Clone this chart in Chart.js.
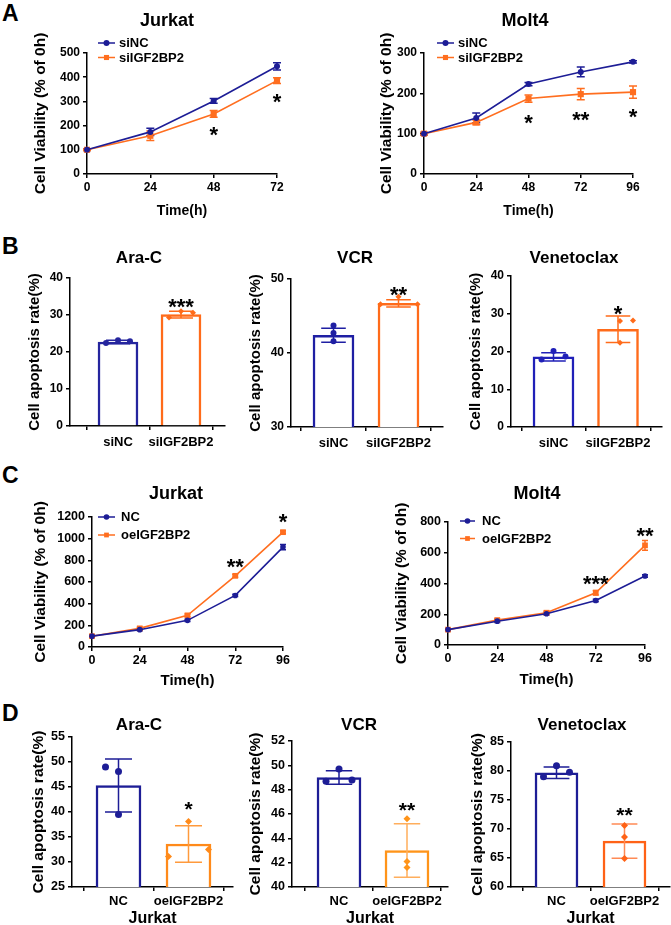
<!DOCTYPE html>
<html>
<head>
<meta charset="utf-8">
<script src="https://cdn.jsdelivr.net/npm/chart.js@4.4.0/dist/chart.umd.min.js"></script>
<style>
  html, body { margin: 0; padding: 0; background: #fff; width: 671px; height: 925px; overflow: hidden; position: relative; }
  canvas { position: absolute; }
  .tag { position: absolute; font: bold 23px "Liberation Sans", Arial, sans-serif; color: #000; line-height: 1; }
</style>
</head>
<body>
<div class="tag" style="left:2px;top:2px">A</div>
<div class="tag" style="left:2px;top:235px">B</div>
<div class="tag" style="left:2px;top:464px">C</div>
<div class="tag" style="left:2px;top:702px">D</div>
<script>
// ---- data ----
const timeA1 = [0, 24, 48, 72];
const timeA2 = [0, 24, 48, 72, 96];
const timeC = [0, 24, 48, 72, 96];

const knockLabels = ['siNC', 'siIGF2BP2'];
const overLabels = ['NC', 'oeIGF2BP2'];

// A: Jurkat / Molt4 knockdown
const a1NC = [100, 174, 302, 445];
const a1NCErr = [3, 15, 10, 15];
const a1Si = [100, 158, 248, 386];
const a1SiErr = [3, 20, 14, 12];
const a1Sig = [{ x: 48, y: 183, t: '*' }, { x: 72, y: 320, t: '*' }];

const a2NC = [100, 139, 223, 253, 278];
const a2NCErr = [3, 12, 4, 12, 3];
const a2Si = [100, 128, 187, 198, 203];
const a2SiErr = [3, 6, 9, 14, 15];
const a2Sig = [{ x: 48, y: 139, t: '*' }, { x: 72, y: 147, t: '**' }, { x: 96, y: 155, t: '*' }];

// B: apoptosis after knockdown
const bAraMean = [22.7, 30.1];
const bAraSd = [0.45, 0.9];
const bAraDots = [[22.4, 23.2, 22.9], [29.3, 31.0, 30.6]];
const bAraSig = [{ x: 1, y: 33.7, t: '***' }];

const bVcrMean = [42.4, 46.7];
const bVcrSd = [0.95, 0.5];
const bVcrDots = [[43.7, 42.7, 41.6], [47.6, 46.6, 46.6]];
const bVcrSig = [{ x: 1, y: 48.6, t: '**' }];

const bVenMean = [18.6, 25.9];
const bVenSd = [1.1, 3.5];
const bVenDots = [[20.1, 17.9, 18.7], [28.1, 28.2, 22.3]];
const bVenSig = [{ x: 1, y: 31.3, t: '*' }];

// C: Jurkat / Molt4 overexpression
const c1NC = [100, 160, 246, 476, 922];
const c1NCErr = [10, 10, 10, 10, 25];
const c1Oe = [100, 172, 292, 657, 1060];
const c1OeErr = [10, 10, 12, 12, 12];
const c1Sig = [{ x: 72, y: 790, t: '**' }, { x: 96, y: 1200, t: '*' }];

const c2NC = [100, 155, 203, 289, 449];
const c2NCErr = [5, 8, 8, 8, 8];
const c2Oe = [100, 162, 210, 340, 648];
const c2OeErr = [5, 8, 10, 15, 32];
const c2Sig = [{ x: 72, y: 434, t: '***' }, { x: 96, y: 743, t: '**' }];

// D: apoptosis after overexpression (Jurkat)
const dAraMean = [45.3, 33.6];
const dAraSd = [5.3, 3.65];
const dAraDots = [[49.0, 48.1, 39.5], [38.1, 31.1, 32.5]];
const dAraSig = [{ x: 1, y: 41.6, t: '*' }];

const dVcrMean = [49.0, 43.0];
const dVcrSd = [0.55, 2.2];
const dVcrDots = [[49.7, 48.7, 48.8], [45.6, 42.1, 41.6]];
const dVcrSig = [{ x: 1, y: 46.7, t: '**' }];

const dVenMean = [79.7, 67.9];
const dVenSd = [1.0, 2.95];
const dVenDots = [[80.9, 79.0, 79.8], [70.6, 68.6, 64.9]];
const dVenSig = [{ x: 1, y: 73.3, t: '**' }];

// ---- styling ----
const SANS = '"Liberation Sans", Arial, sans-serif';
const NARROW = '"Liberation Sans Narrow", "Liberation Sans", Arial, sans-serif';
const NAVY = '#1d1d96';
const ORANGE = '#ff6e1f';

function marker(ctx, style, x, y, r, color) {
  ctx.fillStyle = color;
  ctx.beginPath();
  if (style === 'rect') {
    ctx.rect(x - r, y - r, 2 * r, 2 * r);
  } else if (style === 'diamond') {
    ctx.moveTo(x, y - r); ctx.lineTo(x + r, y); ctx.lineTo(x, y + r); ctx.lineTo(x - r, y); ctx.closePath();
  } else {
    ctx.arc(x, y, r, 0, Math.PI * 2);
  }
  ctx.fill();
}

function errLine(ctx, x, y1, y2, cap) {
  ctx.beginPath();
  ctx.moveTo(x, y1); ctx.lineTo(x, y2);
  ctx.moveTo(x - cap, y1); ctx.lineTo(x + cap, y1);
  ctx.moveTo(x - cap, y2); ctx.lineTo(x + cap, y2);
  ctx.stroke();
}

// error bars, replicate dots, significance stars and the inline legend
const extras = {
  id: 'extras',
  beforeDatasetsDraw(chart, args, o) {
    if (!o.lineErr) return;
    const ctx = chart.ctx, ys = chart.scales.y;
    o.lineErr.forEach((errs, di) => {
      const ds = chart.data.datasets[di];
      ctx.save();
      ctx.strokeStyle = ds.borderColor;
      ctx.lineWidth = 1.5;
      chart.getDatasetMeta(di).data.forEach((pt, i) => {
        const v = ds.data[i].y;
        errLine(ctx, pt.x, ys.getPixelForValue(v - errs[i]), ys.getPixelForValue(v + errs[i]), o.cap);
      });
      ctx.restore();
    });
  },
  afterDatasetsDraw(chart, args, o) {
    const ctx = chart.ctx, xs = chart.scales.x, ys = chart.scales.y;
    if (o.bars) {
      const b = o.bars;
      const ds = chart.data.datasets[0];
      chart.getDatasetMeta(0).data.forEach((bar, i) => {
        const m = ds.data[i].y;
        ctx.save();
        ctx.strokeStyle = b.errColors[i];
        ctx.lineWidth = 1.5;
        errLine(ctx, bar.x, ys.getPixelForValue(m - b.sd[i]), ys.getPixelForValue(m + b.sd[i]), bar.width * b.capFrac / 2);
        b.dots[i].forEach((v, k) => {
          marker(ctx, b.styles[i], bar.x + b.jitter[i][k], ys.getPixelForValue(v), b.r, b.dotColors[i]);
        });
        ctx.restore();
      });
    }
    if (o.sig) {
      ctx.save();
      ctx.fillStyle = '#000';
      ctx.font = 'bold ' + o.sigSize + 'px ' + SANS;
      ctx.textAlign = 'center';
      ctx.textBaseline = 'alphabetic';
      o.sig.forEach(s => {
        ctx.fillText(s.t, xs.getPixelForValue(s.x), ys.getPixelForValue(s.y) + o.sigSize * 0.56);
      });
      ctx.restore();
    }
    if (o.legend) {
      const lg = o.legend, ca = chart.chartArea;
      ctx.save();
      ctx.font = 'bold ' + lg.size + 'px ' + SANS;
      ctx.textBaseline = 'middle';
      ctx.textAlign = 'left';
      chart.data.datasets.forEach((ds, i) => {
        const x0 = ca.left + lg.x, y0 = ca.top + lg.y + i * lg.dy;
        ctx.strokeStyle = ds.borderColor;
        ctx.lineWidth = 1.5;
        ctx.beginPath(); ctx.moveTo(x0, y0); ctx.lineTo(x0 + lg.len, y0); ctx.stroke();
        marker(ctx, ds.pointStyle, x0 + lg.len / 2, y0, ds.pointStyle === 'rect' ? lg.r * 0.85 : lg.r, ds.borderColor);
        ctx.fillStyle = '#000';
        ctx.fillText(ds.label, x0 + lg.len + lg.gap, y0 + 0.5);
      });
      ctx.restore();
    }
  }
};

// place a canvas so its chart area lands on g.L..g.R, g.T..g.B
function frame(g, f) {
  const yLh = f.yTitle * 1.2, tLh = f.title * 1.2;
  const left = Math.round(g.yt - yLh / 2);
  const right = Math.round(Math.max(2 * g.tx - left, g.R + 6));
  const top = Math.round(g.ty - tLh / 2);
  const bottom = Math.round(g.xt ? g.xt + f.xTitle * 1.2 / 2 : g.B + 26);
  return {
    left, top, w: right - left, h: bottom - top,
    padR: right - g.R, yW: g.L - left, xH: bottom - g.B, titlePad: g.T - top - tLh
  };
}

function makeCanvas(fr) {
  const c = document.createElement('canvas');
  c.width = fr.w; c.height = fr.h;
  c.style.left = fr.left + 'px'; c.style.top = fr.top + 'px';
  document.body.appendChild(c);
  return c;
}

function axis(o) {
  return {
    type: 'linear', min: o.min, max: o.max, offset: false,
    ticks: { stepSize: o.step, color: '#000', padding: o.pad, font: { family: o.family, size: o.size, weight: 'bold' }, callback: o.cb },
    grid: { display: true, drawOnChartArea: false, drawTicks: true, tickLength: 4, tickColor: '#000', lineWidth: 1.5 },
    border: { display: true, color: '#000', width: 1.5 },
    title: { display: !!o.title, text: o.title, color: '#000', padding: 0, font: { family: o.tfamily || o.family, size: o.tsize, weight: 'bold', lineHeight: 1.2 } },
    afterBuildTicks: o.abt,
    afterFit: o.fit
  };
}

function baseOptions(fr, title, f, scales, ext) {
  return {
    responsive: false, animation: false,
    layout: { padding: 0 },
    scales,
    plugins: {
      legend: { display: false }, tooltip: { enabled: false },
      title: { display: true, text: title, color: '#000', padding: { top: 0, bottom: fr.titlePad }, font: { family: SANS, size: f.title, weight: 'bold', lineHeight: 1.2 } },
      extras: ext
    }
  };
}

function lineChart(g, f, p) {
  const fr = frame(g, f);
  const cv = makeCanvas(fr);
  const xs = axis({ min: 0, max: p.time[p.time.length - 1], step: 24, family: f.family, size: f.tick, pad: f.xPad,
    title: 'Time(h)', tsize: f.xTitle, tfamily: f.family,
    fit: s => { s.height = fr.xH; s.paddingLeft = 0; s.paddingRight = fr.padR; } });
  const ys = axis({ min: p.yMin, max: p.yMax, step: p.yStep, family: f.family, size: f.tick, pad: 3,
    title: 'Cell Viability (% of 0h)', tsize: f.yTitle, tfamily: SANS,
    fit: s => { s.width = fr.yW; s.paddingTop = 0; s.paddingBottom = 0; } });
  const mk = (label, vals, color, style, r) => ({
    label, data: p.time.map((t, i) => ({ x: t, y: vals[i] })),
    borderColor: color, backgroundColor: color, borderWidth: 1.6,
    pointStyle: style, pointRadius: r, pointBorderWidth: 0, tension: 0, clip: false
  });
  new Chart(cv, {
    type: 'line',
    data: { datasets: [mk(p.labels[0], p.a, NAVY, 'circle', p.r), mk(p.labels[1], p.b, ORANGE, 'rect', p.r * 1.45)] },
    options: baseOptions(fr, p.title, f, { x: xs, y: ys }, {
      lineErr: [p.aErr, p.bErr], cap: p.cap, sig: p.sig, sigSize: p.sigSize, legend: p.legend
    }),
    plugins: [extras]
  });
}

function barChart(g, f, p) {
  const fr = frame(g, f);
  const cv = makeCanvas(fr);
  const gap = g.c1 - g.c0;
  const xs = axis({ min: -(g.c0 - g.L) / gap, max: 1 + (g.R - g.c1) / gap, family: f.family, size: f.xtick, pad: f.xPad,
    cb: v => p.groups[v], abt: s => { s.ticks = [{ value: 0 }, { value: 1 }]; },
    title: p.xTitle, tsize: f.xTitle, tfamily: SANS,
    fit: s => { s.height = fr.xH; s.paddingLeft = 0; s.paddingRight = fr.padR; } });
  const ys = axis({ min: p.yMin, max: p.yMax, step: p.yStep, family: f.family, size: f.tick, pad: 3,
    title: 'Cell apoptosis rate(%)', tsize: f.yTitle, tfamily: SANS,
    fit: s => { s.width = fr.yW; s.paddingTop = 0; s.paddingBottom = 0; } });
  new Chart(cv, {
    type: 'bar',
    data: { datasets: [{
      data: p.mean.map((m, i) => ({ x: i, y: m })),
      backgroundColor: '#fff', borderColor: p.colors, borderWidth: 2.5,
      barThickness: g.bw, borderSkipped: 'start'
    }] },
    options: baseOptions(fr, p.title, f, { x: xs, y: ys }, {
      bars: { sd: p.sd, dots: p.dots, jitter: p.jitter, styles: ['circle', 'diamond'], r: p.r,
        dotColors: p.colors, errColors: p.errColors || p.colors, capFrac: p.capFrac },
      sig: p.sig, sigSize: p.sigSize
    }),
    plugins: [extras]
  });
}

// ---- panel A ----
const fA = { family: SANS, tick: 12, xPad: 2, title: 18, yTitle: 15.5, xTitle: 14 };
lineChart({ L: 87, R: 277, T: 53, B: 174, tx: 167, ty: 21, yt: 40, xt: 212 }, fA, {
  title: 'Jurkat', time: timeA1, labels: knockLabels, a: a1NC, aErr: a1NCErr, b: a1Si, bErr: a1SiErr,
  yMin: 0, yMax: 500, yStep: 100, r: 3, cap: 4, sig: a1Sig, sigSize: 22,
  legend: { x: 11, y: -10, dy: 14.5, len: 17, gap: 4, size: 13, r: 3 }
});
lineChart({ L: 424, R: 633, T: 53, B: 174, tx: 525, ty: 21, yt: 386, xt: 212 }, fA, {
  title: 'Molt4', time: timeA2, labels: knockLabels, a: a2NC, aErr: a2NCErr, b: a2Si, bErr: a2SiErr,
  yMin: 0, yMax: 300, yStep: 100, r: 3, cap: 4, sig: a2Sig, sigSize: 22,
  legend: { x: 13, y: -10, dy: 14.5, len: 17, gap: 4, size: 13, r: 3 }
});

// ---- panel B ----
const fB = { family: SANS, tick: 12, xtick: 13, xPad: 5, title: 17, yTitle: 15, xTitle: 14 };
const jitB = [[-12, 0, 12], [-12, 0, 12]];
barChart({ L: 70, R: 225, T: 278, B: 426, tx: 139, ty: 258, yt: 35, c0: 118, c1: 181, bw: 40 }, fB, {
  title: 'Ara-C', groups: knockLabels, mean: bAraMean, sd: bAraSd, dots: bAraDots, jitter: jitB,
  colors: ['#25259e', '#ff6b1a'], yMin: 0, yMax: 40, yStep: 10, r: 3, capFrac: 0.6, sig: bAraSig, sigSize: 22
});
barChart({ L: 291, R: 443, T: 279, B: 427, tx: 355, ty: 258, yt: 256, c0: 333.5, c1: 398.5, bw: 41 }, fB, {
  title: 'VCR', groups: knockLabels, mean: bVcrMean, sd: bVcrSd, dots: bVcrDots, jitter: [[0, 0, 0], [0, -18, 19]],
  colors: ['#1f1fa3', '#ff6b1a'], yMin: 30, yMax: 50, yStep: 10, r: 3, capFrac: 0.6, sig: bVcrSig, sigSize: 22
});
barChart({ L: 511, R: 662, T: 276, B: 427, tx: 574, ty: 258, yt: 476, c0: 553.5, c1: 618, bw: 41 }, fB, {
  title: 'Venetoclax', groups: knockLabels, mean: bVenMean, sd: bVenSd, dots: bVenDots, jitter: [[0, -12, 12], [2, 15, 2]],
  colors: ['#2020b8', '#ff6b1a'], yMin: 0, yMax: 40, yStep: 10, r: 3, capFrac: 0.6, sig: bVenSig, sigSize: 22
});

// ---- panel C ----
const fC = { family: NARROW, tick: 12.5, xPad: 2, title: 18, yTitle: 15.5, xTitle: 15 };
lineChart({ L: 92, R: 283, T: 517, B: 647, tx: 176, ty: 494, yt: 40, xt: 681 }, fC, {
  title: 'Jurkat', time: timeC, labels: overLabels, a: c1NC, aErr: c1NCErr, b: c1Oe, bErr: c1OeErr,
  yMin: 0, yMax: 1200, yStep: 200, r: 2.8, cap: 3, sig: c1Sig, sigSize: 22,
  legend: { x: 6, y: 0, dy: 18, len: 17, gap: 6, size: 13, r: 2.8 }
});
lineChart({ L: 448, R: 645, T: 522, B: 645, tx: 537, ty: 494, yt: 401, xt: 680 }, fC, {
  title: 'Molt4', time: timeC, labels: overLabels, a: c2NC, aErr: c2NCErr, b: c2Oe, bErr: c2OeErr,
  yMin: 0, yMax: 800, yStep: 200, r: 2.8, cap: 3, sig: c2Sig, sigSize: 22,
  legend: { x: 12, y: -1, dy: 17.5, len: 15, gap: 7, size: 13, r: 2.8 }
});

// ---- panel D ----
const fD = { family: NARROW, tick: 12.5, xtick: 13, xPad: 3, title: 17, yTitle: 15.5, xTitle: 16 };
const jitD = [[-13, 0, 0], [0, -20, 20]];
barChart({ L: 72, R: 233, T: 737, B: 887, tx: 139, ty: 725, yt: 38, xt: 918, c0: 118.5, c1: 188.5, bw: 45 }, fD, {
  title: 'Ara-C', groups: overLabels, xTitle: 'Jurkat', mean: dAraMean, sd: dAraSd, dots: dAraDots, jitter: jitD,
  colors: ['#1d1d96', '#ff8a1a'], errColors: ['#1d1d96', '#ff9a3c'], yMin: 25, yMax: 55, yStep: 5, r: 3.5, capFrac: 0.6, sig: dAraSig, sigSize: 21
});
barChart({ L: 292, R: 448, T: 741, B: 887, tx: 359, ty: 725, yt: 255, xt: 918, c0: 339, c1: 407, bw: 44 }, fD, {
  title: 'VCR', groups: overLabels, xTitle: 'Jurkat', mean: dVcrMean, sd: dVcrSd, dots: dVcrDots, jitter: [[0, -13, 13], [0, 0, 0]],
  colors: ['#1d1d96', '#ff9419'], errColors: ['#1d1d96', '#ffae5c'], yMin: 40, yMax: 52, yStep: 2, r: 3.5, capFrac: 0.6, sig: dVcrSig, sigSize: 21
});
barChart({ L: 511, R: 670, T: 742, B: 887, tx: 582, ty: 725, yt: 477, xt: 918, c0: 556.5, c1: 624.5, bw: 43 }, fD, {
  title: 'Venetoclax', groups: overLabels, xTitle: 'Jurkat', mean: dVenMean, sd: dVenSd, dots: dVenDots, jitter: [[0, -13, 13], [0, 0, 0]],
  colors: ['#1d1d96', '#ff6216'], errColors: ['#1d1d96', '#ff8a55'], yMin: 60, yMax: 85, yStep: 5, r: 3.5, capFrac: 0.6, sig: dVenSig, sigSize: 21
});
</script>
</body>
</html>
